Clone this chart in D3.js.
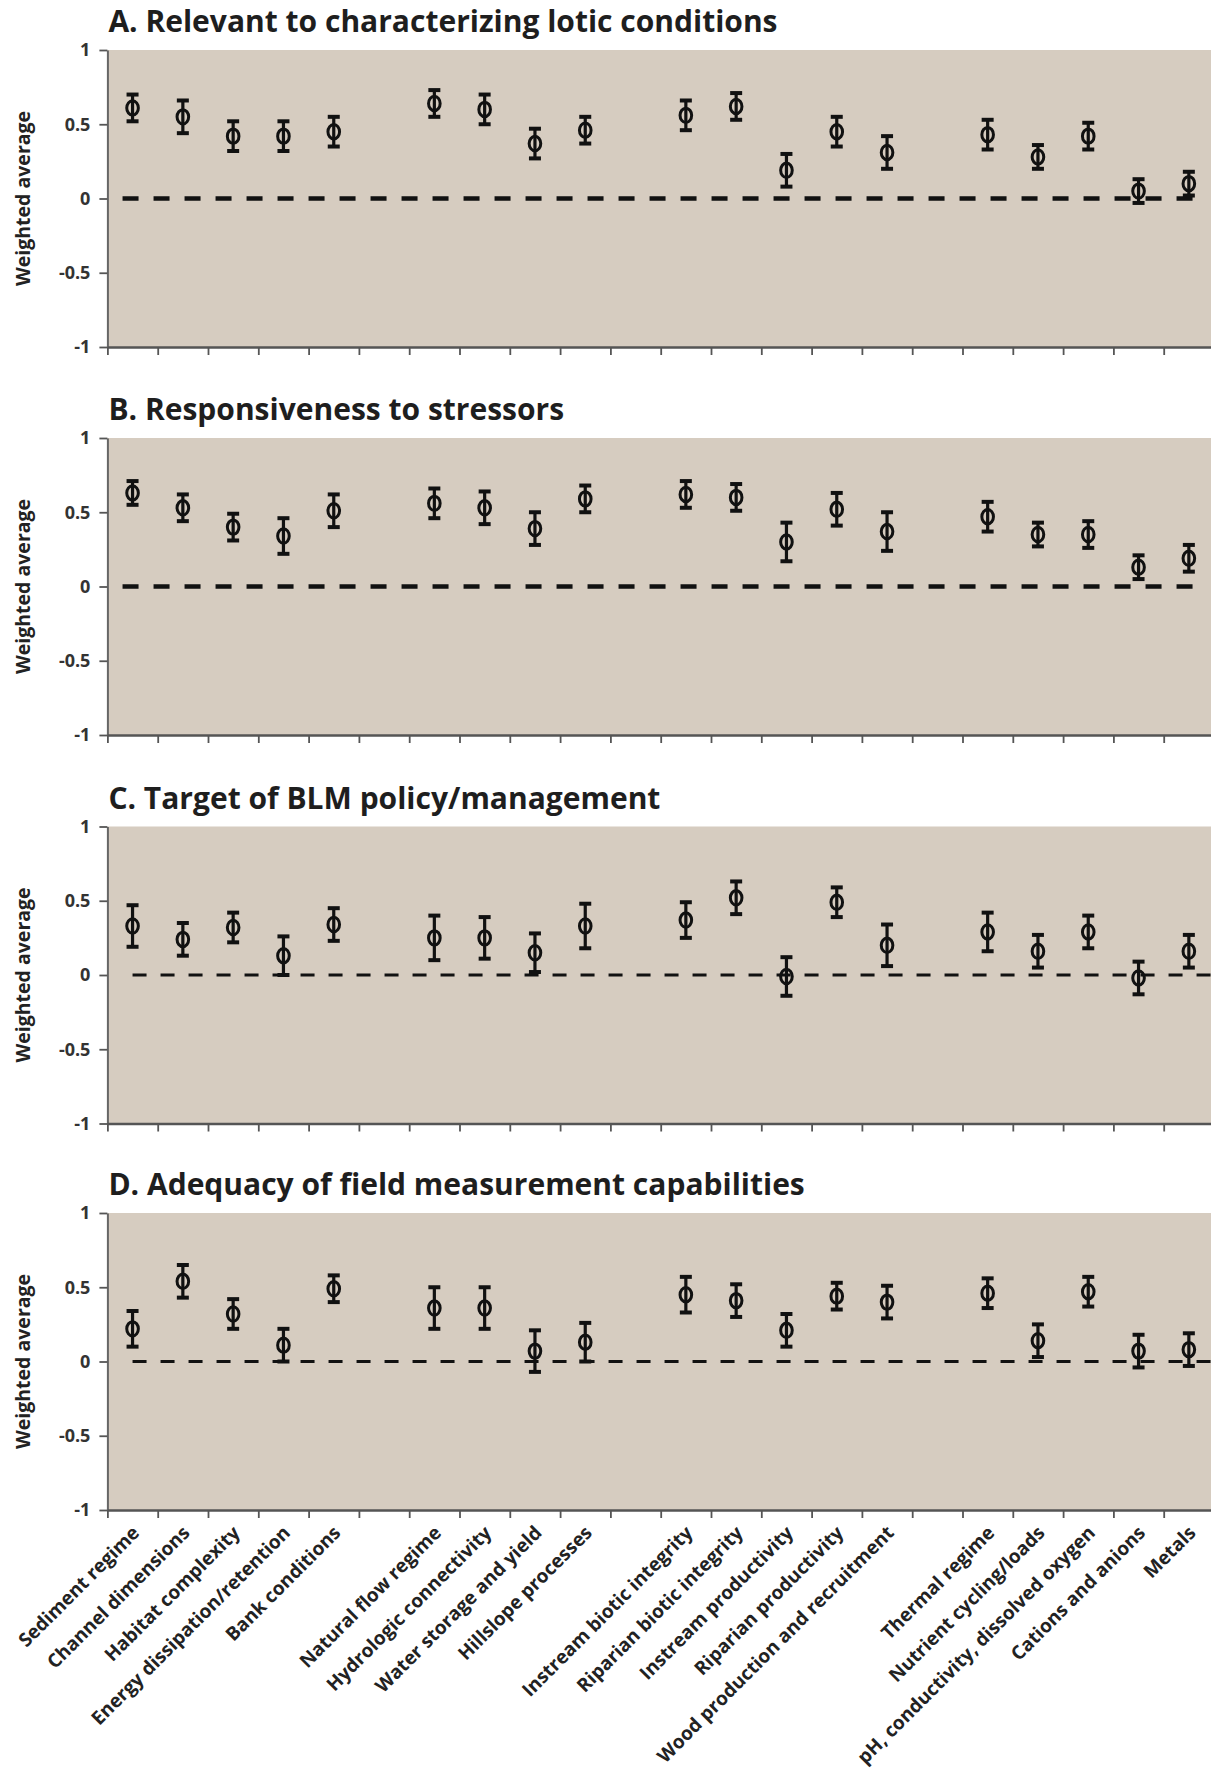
<!DOCTYPE html>
<html>
<head>
<meta charset="utf-8">
<script src="https://cdn.jsdelivr.net/npm/d3@7/dist/d3.min.js"></script>
<style>
  body { margin: 0; background: #fff; }
  svg text { font-family: "Open Sans", "Noto Sans", sans-serif; }
</style>
</head>
<body>
<svg id="chart" width="1211" height="1773"></svg>
<script>
// categories, in four groups (an empty slot sits between groups)
var groups = [
  ["Sediment regime", "Channel dimensions", "Habitat complexity", "Energy dissipation/retention", "Bank conditions"],
  ["Natural flow regime", "Hydrologic connectivity", "Water storage and yield", "Hillslope processes"],
  ["Instream biotic integrity", "Riparian biotic integrity", "Instream productivity", "Riparian productivity", "Wood production and recruitment"],
  ["Thermal regime", "Nutrient cycling/loads", "pH, conductivity, dissolved oxygen", "Cations and anions", "Metals"]
];

var titles = [
  "A. Relevant to characterizing lotic conditions",
  "B. Responsiveness to stressors",
  "C. Target of BLM policy/management",
  "D. Adequacy of field measurement capabilities"
];

// weighted averages and error bar half-widths, one per category
var valuesA = [0.61, 0.55, 0.42, 0.42, 0.45, 0.64, 0.60, 0.37, 0.46, 0.56, 0.62, 0.19, 0.45, 0.31, 0.43, 0.28, 0.42, 0.05, 0.10];
var errorsA = [0.09, 0.11, 0.10, 0.10, 0.10, 0.09, 0.10, 0.10, 0.09, 0.10, 0.09, 0.11, 0.10, 0.11, 0.10, 0.08, 0.09, 0.08, 0.08];

var valuesB = [0.63, 0.53, 0.40, 0.34, 0.51, 0.56, 0.53, 0.39, 0.59, 0.62, 0.60, 0.30, 0.52, 0.37, 0.47, 0.35, 0.35, 0.13, 0.19];
var errorsB = [0.08, 0.09, 0.09, 0.12, 0.11, 0.10, 0.11, 0.11, 0.09, 0.09, 0.09, 0.13, 0.11, 0.13, 0.10, 0.08, 0.09, 0.08, 0.09];

var valuesC = [0.33, 0.24, 0.32, 0.13, 0.34, 0.25, 0.25, 0.15, 0.33, 0.37, 0.52, -0.01, 0.49, 0.20, 0.29, 0.16, 0.29, -0.02, 0.16];
var errorsC = [0.14, 0.11, 0.10, 0.13, 0.11, 0.15, 0.14, 0.13, 0.15, 0.12, 0.11, 0.13, 0.10, 0.14, 0.13, 0.11, 0.11, 0.11, 0.11];

var valuesD = [0.22, 0.54, 0.32, 0.11, 0.49, 0.36, 0.36, 0.07, 0.13, 0.45, 0.41, 0.21, 0.44, 0.40, 0.46, 0.14, 0.47, 0.07, 0.08];
var errorsD = [0.12, 0.11, 0.10, 0.11, 0.09, 0.14, 0.14, 0.14, 0.13, 0.12, 0.11, 0.11, 0.09, 0.11, 0.10, 0.11, 0.10, 0.11, 0.11];

var yTicks = [-1, -0.5, 0, 0.5, 1];

// build x slots: categories plus a blank slot between groups
var slots = [];
groups.forEach(function(g, i) {
  if (i > 0) slots.push("gap" + i);
  g.forEach(function(c) { slots.push(c); });
});
var categories = [].concat.apply([], groups);

var series = [
  {values: valuesA, errors: errorsA},
  {values: valuesB, errors: errorsB},
  {values: valuesC, errors: errorsC},
  {values: valuesD, errors: errorsD}
];

// layout
var left = 107.4, right = 1214, plotH = 297;
var tops = [50, 438, 826.5, 1213];
var zeroStyle = [
  {w: 4.6, dash: "16,15", from: -10, to: 12},
  {w: 4.6, dash: "16,15", from: -10, to: 12},
  {w: 3.2, dash: "14,14", from: 0, to: 40},
  {w: 3.2, dash: "14,14", from: 0, to: 40}
];

var svg = d3.select("#chart");

var x = d3.scaleBand().domain(slots).range([left, right]);
var xEdge = d3.scaleLinear().domain([0, slots.length]).range([left, right]);

series.forEach(function(s, i) {
  var top = tops[i];
  var y = d3.scaleLinear().domain([-1, 1]).range([top + plotH, top]);
  var g = svg.append("g");

  // panel background
  g.append("rect")
    .attr("x", left).attr("y", top)
    .attr("width", 1211 - left).attr("height", plotH)
    .attr("fill", "#d6ccc0");

  // title
  g.append("text")
    .attr("x", left + 1).attr("y", top - 18)
    .attr("font-size", 30).attr("font-weight", 700)
    .attr("fill", "#1e1e1e")
    .text(titles[i]);

  // y axis
  var ya = g.append("g")
    .attr("transform", "translate(" + left + ",0)")
    .call(d3.axisLeft(y).tickValues(yTicks).tickSize(8).tickSizeOuter(0).tickPadding(9)
      .tickFormat(function(d) { return String(d); }));
  ya.select(".domain").attr("stroke", "#666").attr("stroke-width", 2);
  ya.selectAll(".tick line").attr("stroke", "#555").attr("stroke-width", 1.8);
  ya.selectAll(".tick text")
    .attr("font-size", 18).attr("font-weight", 700).attr("fill", "#333")
    .style("font-family", "'Open Sans', sans-serif");

  // x axis: ticks at slot edges
  var xa = g.append("g")
    .attr("transform", "translate(0," + (top + plotH) + ")")
    .call(d3.axisBottom(xEdge).tickValues(d3.range(0, slots.length + 1)).tickSize(8).tickSizeOuter(0)
      .tickFormat(""));
  xa.select(".domain").attr("stroke", "#555").attr("stroke-width", 2.6);
  xa.selectAll(".tick line").attr("stroke", "#555").attr("stroke-width", 1.8);

  // y label
  g.append("text")
    .attr("transform", "translate(23," + y(0) + ") rotate(-90)")
    .attr("text-anchor", "middle").attr("dy", "0.35em")
    .attr("font-size", 19.5).attr("font-weight", 700).attr("fill", "#222")
    .text("Weighted average");

  // dashed zero line
  var zs = zeroStyle[i];
  g.append("line")
    .attr("x1", x(categories[0]) + x.bandwidth() / 2 + zs.from)
    .attr("x2", x(categories[categories.length - 1]) + x.bandwidth() / 2 + zs.to)
    .attr("y1", y(0)).attr("y2", y(0))
    .attr("stroke", "#111").attr("stroke-width", zs.w)
    .attr("stroke-dasharray", zs.dash);

  // error bars and markers
  var pts = categories.map(function(c, k) {
    return {cat: c, v: s.values[k], e: s.errors[k]};
  });
  var m = g.append("g").selectAll("g").data(pts).enter().append("g")
    .attr("transform", function(d) { return "translate(" + (x(d.cat) + x.bandwidth() / 2) + ",0)"; });
  m.append("line")
    .attr("y1", function(d) { return y(d.v + d.e); })
    .attr("y2", function(d) { return y(d.v - d.e); })
    .attr("stroke", "#111").attr("stroke-width", 3.2);
  m.append("line")
    .attr("x1", -6).attr("x2", 6)
    .attr("y1", function(d) { return y(d.v + d.e); })
    .attr("y2", function(d) { return y(d.v + d.e); })
    .attr("stroke", "#111").attr("stroke-width", 4);
  m.append("line")
    .attr("x1", -6).attr("x2", 6)
    .attr("y1", function(d) { return y(d.v - d.e); })
    .attr("y2", function(d) { return y(d.v - d.e); })
    .attr("stroke", "#111").attr("stroke-width", 4);
  m.append("ellipse")
    .attr("cx", 0).attr("cy", function(d) { return y(d.v); })
    .attr("rx", 5.8).attr("ry", 7.2)
    .attr("fill", "none").attr("stroke", "#111").attr("stroke-width", 3);

  // category labels under the last panel
  if (i === series.length - 1) {
    g.append("g").selectAll("text").data(categories).enter().append("text")
      .attr("transform", function(c) {
        return "translate(" + (x(c) + x.bandwidth() / 2 + 8) + "," + (top + plotH + 24) + ") rotate(-45)";
      })
      .attr("text-anchor", "end")
      .attr("font-size", 19).attr("font-weight", 700).attr("fill", "#222")
      .text(function(c) { return c; });
  }
});
</script>
</body>
</html>
